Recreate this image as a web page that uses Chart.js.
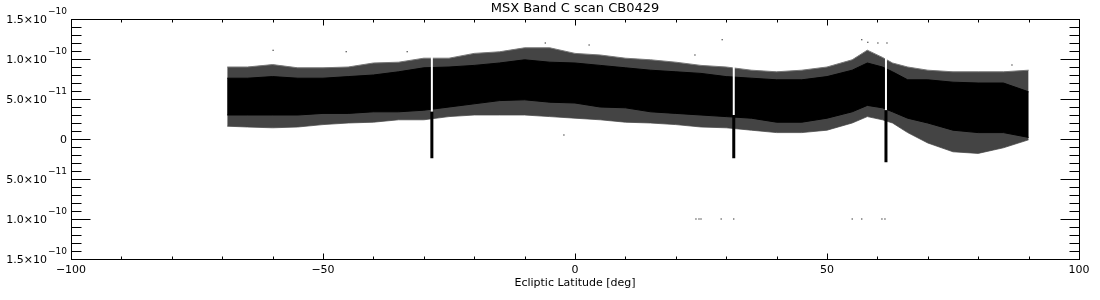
<!DOCTYPE html>
<html>
<head>
<meta charset="utf-8">
<script src="https://cdn.jsdelivr.net/npm/chart.js@4"></script>
<style>
html,body{margin:0;padding:0;background:#fff;}
</style>
</head>
<body>
<canvas id="scanChart" width="1100" height="300"></canvas>
<script>

// band edges, in units of 1e-11
const latitude   = [-69, -65, -60, -55, -50, -45, -40, -35, -30, -25, -20, -15, -10, -5, 0, 5, 10, 15, 20, 25, 30, 35, 40, 45, 50, 55, 58, 61, 63, 66, 70, 75, 80, 85, 90];
const outerHigh  = [9.0, 9.0, 9.3, 8.9, 8.9, 9.0, 9.5, 9.6, 10.1, 10.1, 10.7, 10.9, 11.4, 11.4, 10.7, 10.5, 10.1, 9.9, 9.6, 9.2, 9.0, 8.6, 8.4, 8.6, 9.0, 9.9, 11.1, 10.2, 9.5, 9.0, 8.6, 8.4, 8.4, 8.4, 8.6];
const coreHigh   = [7.6, 7.6, 7.8, 7.6, 7.6, 7.8, 8.0, 8.4, 8.9, 9.0, 9.2, 9.5, 9.9, 9.6, 9.5, 9.2, 8.9, 8.6, 8.4, 8.2, 7.8, 7.6, 7.4, 7.4, 7.8, 8.6, 9.5, 9.0, 8.4, 7.4, 7.4, 7.1, 7.0, 7.0, 5.9];
const coreLow    = [3.0, 3.0, 3.0, 3.0, 3.2, 3.2, 3.4, 3.4, 3.6, 4.0, 4.4, 4.8, 4.9, 4.6, 4.5, 4.0, 3.9, 3.4, 3.2, 3.0, 2.8, 2.6, 2.1, 2.1, 2.6, 3.4, 4.2, 3.9, 3.4, 2.6, 2.0, 1.1, 0.8, 0.8, 0.2];
const outerLow   = [1.6, 1.5, 1.4, 1.5, 1.8, 2.0, 2.1, 2.4, 2.4, 2.8, 3.0, 3.0, 3.0, 2.8, 2.6, 2.4, 2.1, 2.0, 1.8, 1.5, 1.4, 1.1, 0.8, 0.8, 1.1, 2.0, 2.8, 2.4, 2.0, 0.8, -0.5, -1.6, -1.8, -1.1, -0.1];

const dipLatitude  = [-28.4, 31.5, 61.7];
const dipGapTop    = [10.5, 9.6, 10.5];
const dipGapBottom = [3.4, 3.0, 3.6];
const dipBottom    = [-2.4, -2.4, -2.9];

const strayLatitude = [-59.9, -45.4, -33.3, -5.9, 2.8, -2.2, 23.8, 29.2, 56.9, 58.1, 60.1, 61.9, 86.7, 24.0, 24.6, 25.0, 29.0, 31.5, 55.0, 56.9, 60.9, 61.5];
const strayValue    = [11.1, 10.9, 10.9, 12.0, 11.75, 0.5, 10.5, 12.4, 12.4, 12.1, 12.0, 12.0, 9.25, -10, -10, -10, -10, -10, -10, -10, -10, -10];

const chartTitle = "MSX Band C scan CB0429";
const xTickValues = [-100, -50, 0, 50, 100];
const xTickLabels = ["\u2212100", "\u221250", "0", "50", "100"];
const yTickValues = [15, 10, 5, 0, -5, -10, -15];
const yTickBase   = ["1.5\u00d710", "1.0\u00d710", "5.0\u00d710", "0", "5.0\u00d710", "1.0\u00d710", "1.5\u00d710"];
const yTickExp    = ["\u221210", "\u221210", "\u221211", "", "\u221211", "\u221210", "\u221210"];

function zip(xs, ys){
return xs.map((x, i) => ({x: x, y: ys[i]}));
}

function segments(xs, tops, bottoms){
const pts = [];
xs.forEach((x, i) => {
pts.push({x: x, y: tops[i]});
pts.push({x: x, y: bottoms[i]});
pts.push({x: x, y: null});
});
return pts;
}

const frameTicks = {
id: "frameTicks",
beforeDraw(chart){
const ctx = chart.ctx;
ctx.save();
ctx.fillStyle = "#fff";
ctx.fillRect(0, 0, chart.width, chart.height);
ctx.restore();
},
afterDraw(chart){
const ctx = chart.ctx;
const a = chart.chartArea;
const x = chart.scales.x;
const y = chart.scales.y;
const L = Math.round(a.left) + 0.5, R = Math.round(a.right) + 0.5;
const T = Math.round(a.top) + 0.5, B = Math.round(a.bottom) + 0.5;
ctx.save();
ctx.strokeStyle = "#000";
ctx.lineWidth = 1;
ctx.strokeRect(L, T, R - L, B - T);
ctx.beginPath();
for(let v = -100; v <= 100; v += 10){
const px = Math.round(x.getPixelForValue(v)) + 0.5;
const len = v % 50 === 0 ? 6 : 3;
ctx.moveTo(px, B); ctx.lineTo(px, B - len);
ctx.moveTo(px, T); ctx.lineTo(px, T + len);
}
for(let v = -15; v <= 15; v += 1){
const py = Math.round(y.getPixelForValue(v)) + 0.5;
const len = v % 5 === 0 ? 19 : 10;
ctx.moveTo(L, py); ctx.lineTo(L + len, py);
ctx.moveTo(R, py); ctx.lineTo(R - len, py);
}
ctx.stroke();

ctx.fillStyle = "#000";
ctx.textBaseline = "middle";
ctx.textAlign = "center";
ctx.font = "13px 'DejaVu Sans'";
ctx.fillText(chartTitle, (a.left + a.right) / 2, 9);

ctx.textAlign = "right";
yTickValues.forEach((v, i) => {
const py = y.getPixelForValue(v);
let right = a.left - 4;
if(yTickExp[i]){
ctx.font = "9px 'DejaVu Sans'";
ctx.fillText(yTickExp[i], right, py - 7);
right -= ctx.measureText(yTickExp[i]).width + 1;
}
ctx.font = "11px 'DejaVu Sans'";
ctx.fillText(yTickBase[i], right, py + 1);
});
ctx.restore();
}
};

Chart.defaults.font.family = "'DejaVu Sans'";
Chart.defaults.font.size = 11;
Chart.defaults.color = "#000";

new Chart(document.getElementById("scanChart"), {
type: "scatter",
data: {
datasets: [
{
label: "dip",
data: segments(dipLatitude, dipGapBottom, dipBottom),
showLine: true, spanGaps: false,
borderColor: "#000", borderWidth: 3, borderCapStyle: "butt",
pointRadius: 0
},
{
label: "gap",
data: segments(dipLatitude, dipGapTop, dipGapBottom),
showLine: true, spanGaps: false,
borderColor: "#fff", borderWidth: 2, borderCapStyle: "butt",
pointRadius: 0
},
{
label: "core high",
data: zip(latitude, coreHigh),
showLine: true, fill: "+1",
borderColor: "#000", backgroundColor: "#000", borderWidth: 1,
pointRadius: 0
},
{
label: "core low",
data: zip(latitude, coreLow),
showLine: true,
borderColor: "#000", borderWidth: 1,
pointRadius: 0
},
{
label: "outer high",
data: zip(latitude, outerHigh),
showLine: true, fill: "+1",
borderColor: "#777", backgroundColor: "#444", borderWidth: 1,
pointRadius: 0
},
{
label: "outer low",
data: zip(latitude, outerLow),
showLine: true,
borderColor: "#777", borderWidth: 1,
pointRadius: 0
},
{
label: "stray",
data: zip(strayLatitude, strayValue),
pointStyle: "rect", pointRadius: 0.8,
backgroundColor: "#000", borderWidth: 0
}
]
},
options: {
responsive: false,
animation: false,
layout: {padding: {left: 0, right: 21, top: 19, bottom: 0}},
plugins: {
legend: {display: false},
tooltip: {enabled: false},
title: {display: false}
},
scales: {
x: {
type: "linear",
min: -100, max: 100,
grid: {display: false, drawTicks: false},
border: {display: false},
afterFit: s => { s.height = 41; },
afterBuildTicks: s => { s.ticks = xTickValues.map(v => ({value: v})); },
ticks: {
padding: 5, maxRotation: 0, autoSkip: false,
callback: v => xTickLabels[xTickValues.indexOf(v)]
},
title: {
display: true,
text: "Ecliptic Latitude [deg]",
padding: {top: 0, bottom: 10}
}
},
y: {
min: -15, max: 15,
grid: {display: false, drawTicks: false},
border: {display: false},
afterFit: s => { s.width = 71; },
ticks: {display: false}
}
}
},
plugins: [frameTicks]
});

</script>
</body>
</html>
